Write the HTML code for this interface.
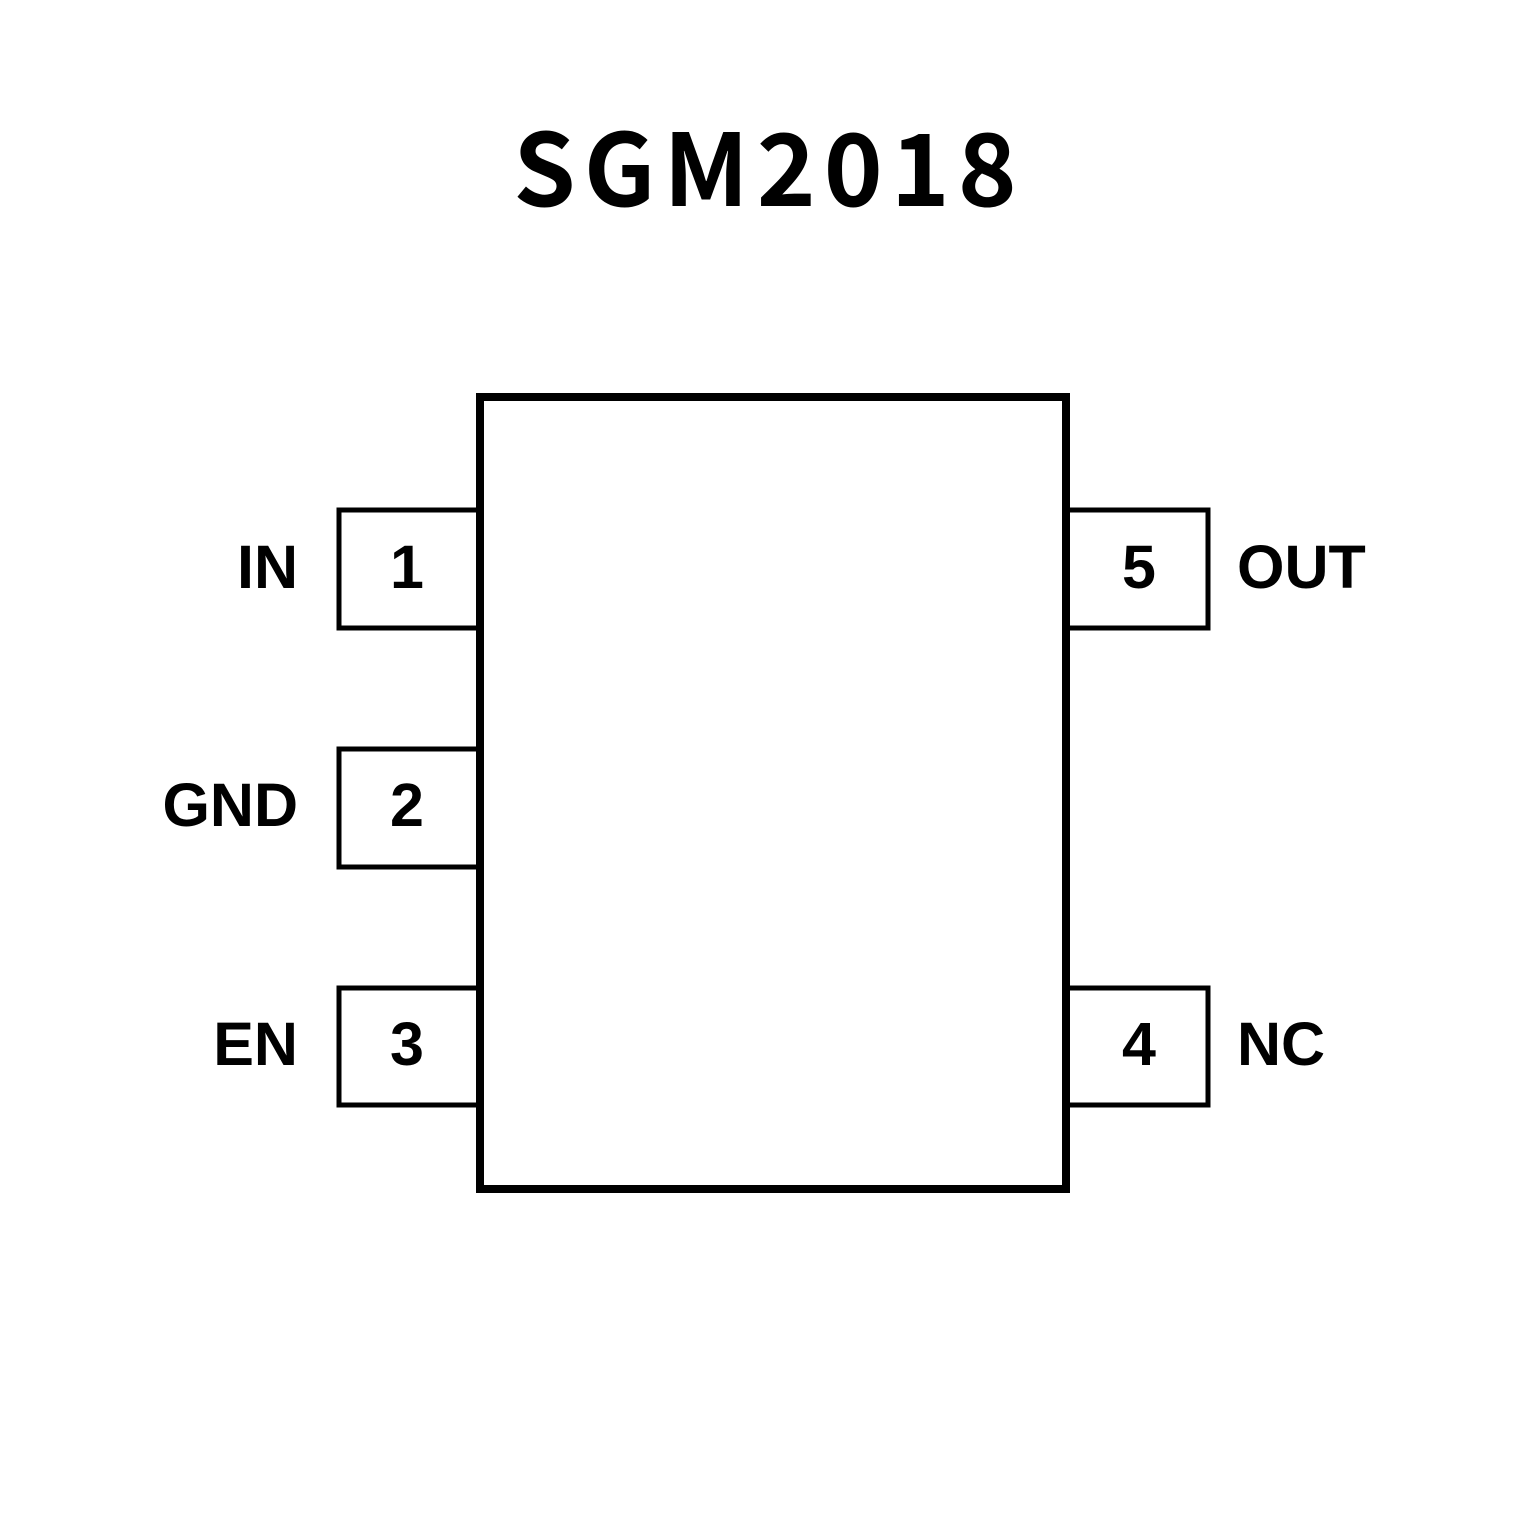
<!DOCTYPE html>
<html><head><meta charset="utf-8"><style>
html,body{margin:0;padding:0;background:#fff;width:1535px;height:1535px;overflow:hidden}
</style></head><body>
<svg width="1535" height="1535" viewBox="0 0 1535 1535" xmlns="http://www.w3.org/2000/svg">
<rect width="1535" height="1535" fill="#fff"/>
<text x="769" y="206" text-anchor="middle" letter-spacing="8" font-family="'Noto Sans CJK SC','Liberation Sans',sans-serif" font-weight="bold" font-size="100" fill="#000">SGM2018</text>
<g fill="none" stroke="#000" stroke-width="5">
<polyline points="478,510 339,510 339,628 478,628"/>
<polyline points="478,749 339,749 339,867 478,867"/>
<polyline points="478,988 339,988 339,1105 478,1105"/>
<polyline points="1066,510 1208,510 1208,628 1066,628"/>
<polyline points="1066,988 1208,988 1208,1105 1066,1105"/>
</g>
<rect x="480" y="397" width="586" height="792" fill="none" stroke="#000" stroke-width="8"/>
<g font-family="'Liberation Sans',Arial,sans-serif" font-weight="bold" font-size="61" fill="#000">
<text x="298" y="588" text-anchor="end">IN</text>
<text x="298" y="826" text-anchor="end">GND</text>
<text x="298" y="1065" text-anchor="end">EN</text>
<text x="407" y="588" text-anchor="middle">1</text>
<text x="407" y="826" text-anchor="middle">2</text>
<text x="407" y="1065" text-anchor="middle">3</text>
<text x="1139" y="588" text-anchor="middle">5</text>
<text x="1139" y="1065" text-anchor="middle">4</text>
<text x="1237" y="588">OUT</text>
<text x="1237" y="1065">NC</text>
</g>
</svg>
</body></html>
